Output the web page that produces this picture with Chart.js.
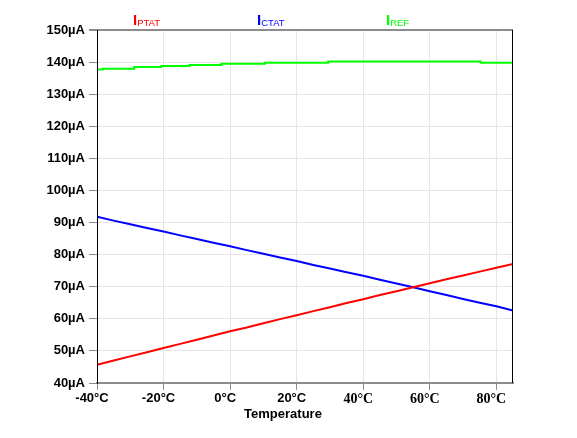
<!DOCTYPE html>
<html>
<head>
<meta charset="utf-8">
<script src="https://cdn.jsdelivr.net/npm/chart.js@4/dist/chart.umd.min.js"></script>
<style>
html,body{margin:0;padding:0;background:#fff;}
#wrap{width:577px;height:438px;position:relative;}
</style>
</head>
<body>
<div id="wrap"><canvas id="c" width="577" height="438"></canvas></div>
<script>
// Temperature (°C)
const temps = [-40,-35,-30,-25,-20,-15,-10,-5,0,5,10,15,20,25,30,35,40,45,50,55,60,65,70,75,80,85];
// I_PTAT (µA)
const iPtat = [45.7,47.0,48.3,49.6,50.9,52.2,53.5,54.8,56.1,57.3,58.6,59.9,61.1,62.4,63.6,64.9,66.1,67.4,68.6,69.85,71.1,72.3,73.5,74.7,75.9,77.1];
// I_CTAT (µA)
const iCtat = [91.8,90.6,89.5,88.3,87.2,86.0,84.9,83.7,82.6,81.4,80.3,79.1,78.0,76.8,75.7,74.5,73.4,72.2,71.0,69.85,68.6,67.4,66.2,65.0,63.9,62.6];
// I_REF (µA) — stepped trace, temperatures where level changes
const refTemps = [-40,-38.3,-28.8,-20.7,-12.2,-2.6,10.4,29.5,75.3,85];
const iRef = [137.72,137.93,138.44,138.75,139.06,139.48,139.79,140.2,139.79,139.79];
// Axis ticks
const xTicks = [-40,-20,0,20,40,60,80];
const yTicks = [40,50,60,70,80,90,100,110,120,130,140,150];
const xTitle = 'Temperature';
const legendItems = [
  {main:'I', sub:'PTAT', color:'#ff0000'},
  {main:'I', sub:'CTAT', color:'#0000ff'},
  {main:'I', sub:'REF', color:'#00ff00'}
];

const pts = (xs, ys) => xs.map((x,i)=>({x:x, y:ys[i]}));

const framePlugin = {
  id:'frame',
  afterDraw(chart){
    const ctx = chart.ctx, a = chart.chartArea;
    ctx.save();
    // top border gray
    ctx.strokeStyle = '#8c8c8c';
    ctx.lineWidth = 2;
    ctx.beginPath(); ctx.moveTo(a.left-8, a.top); ctx.lineTo(a.right, a.top); ctx.stroke();
    // right border black
    ctx.strokeStyle = '#000';
    ctx.lineWidth = 1;
    ctx.beginPath(); ctx.moveTo(a.right-0.5, a.top); ctx.lineTo(a.right-0.5, a.bottom); ctx.stroke();
    // left border black
    ctx.beginPath(); ctx.moveTo(a.left+0.5, a.top); ctx.lineTo(a.left+0.5, a.bottom); ctx.stroke();
    // x title
    ctx.fillStyle = '#000';
    ctx.font = 'bold 13px "Liberation Sans", Arial, sans-serif';
    ctx.textAlign = 'center';
    ctx.textBaseline = 'alphabetic';
    ctx.fillText(xTitle, 283, 418);
    // legend labels with subscripts
    const lx = [133, 257, 386];
    legendItems.forEach((it, i) => {
      ctx.fillStyle = it.color;
      ctx.textAlign = 'left';
      ctx.font = 'bold 15px "Liberation Sans", Arial, sans-serif';
      ctx.fillText(it.main, lx[i], 24.5);
      const w = ctx.measureText(it.main).width;
      ctx.font = '9.5px "Liberation Sans", Arial, sans-serif';
      ctx.fillText(it.sub, lx[i] + w, 26);
    });
    ctx.restore();
  }
};

new Chart(document.getElementById('c'), {
  type:'line',
  data:{
    datasets:[
      {label:'IPTAT', data:pts(temps,iPtat), borderColor:'#ff0000', borderWidth:2, pointRadius:0, tension:0, fill:false},
      {label:'ICTAT', data:pts(temps,iCtat), borderColor:'#0000ff', borderWidth:2, pointRadius:0, tension:0, fill:false},
      {label:'IREF', data:pts(refTemps,iRef), borderColor:'#00ff00', borderWidth:2, pointRadius:0, stepped:'before', fill:false}
    ]
  },
  options:{
    responsive:false,
    animation:false,
    devicePixelRatio:1,
    layout:{padding:{left:0, right:64, top:30, bottom:0}},
    plugins:{legend:{display:false}, tooltip:{enabled:false}, title:{display:false}},
    scales:{
      x:{
        type:'linear', min:-40, max:85,
        afterBuildTicks(s){ s.ticks = xTicks.map(v=>({value:v})); },
        afterFit(s){ s.height = 55; },
        grid:{color:'#e6e6e6', lineWidth:1, tickLength:7, tickColor:'#8c8c8c', drawTicks:true},
        border:{display:true, color:'#8c8c8c', width:2},
        ticks:{
          color:'#000', padding:1, labelOffset:-5, maxRotation:0, autoSkip:false,
          font:(ctx)=>{
            const v = ctx.tick ? ctx.tick.value : 0;
            return v >= 40 ? {family:'"Liberation Serif", "Times New Roman", serif', size:14, weight:'bold'}
                           : {family:'"Liberation Sans", Arial, sans-serif', size:13, weight:'bold'};
          },
          callback:(v)=> v + '°C'
        }
      },
      y:{
        type:'linear', min:40, max:150,
        afterBuildTicks(s){ s.ticks = yTicks.map(v=>({value:v})); },
        afterFit(s){ s.width = 97; },
        grid:{color:'#e6e6e6', lineWidth:1, tickLength:8, tickColor:'#8c8c8c', drawTicks:true},
        border:{display:true, color:'#000', width:1},
        ticks:{
          color:'#000', padding:4, autoSkip:false,
          font:{family:'"Liberation Sans", Arial, sans-serif', size:13, weight:'bold'},
          callback:(v)=> v + 'µA'
        }
      }
    }
  },
  plugins:[framePlugin]
});
</script>
</body>
</html>
